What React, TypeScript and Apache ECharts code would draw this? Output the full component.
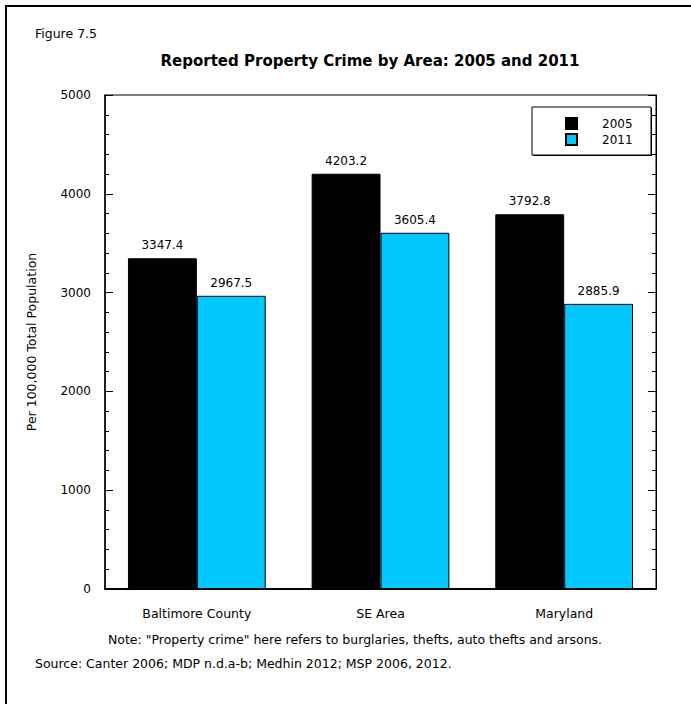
import React, { useEffect, useRef } from "react";
import * as echarts from "echarts";

const categories = ["Baltimore County", "SE Area", "Maryland"];
const values2005 = [3347.4, 4203.2, 3792.8];
const values2011 = [2967.5, 3605.4, 2885.9];
const seriesNames = ["2005", "2011"];
const yTicks = { min: 0, max: 5000, interval: 1000 };

const FONT = "'DejaVu Sans', 'Liberation Sans', Arial, sans-serif";
const FS = 12.5;

export default function App() {
  const ref = useRef<HTMLDivElement>(null);
  useEffect(() => {
    if (!ref.current) return;
    const chart = echarts.init(ref.current, undefined, { renderer: "svg" });
    const yAxisBase = {
      type: "value" as const,
      min: yTicks.min,
      max: yTicks.max,
      interval: yTicks.interval,
      splitLine: { show: false },
      axisLine: { show: true, lineStyle: { color: "#000", width: 1.5 } },
      axisTick: { show: true, inside: true, length: 8, lineStyle: { color: "#000", width: 1 } },
      minorTick: { show: true, splitNumber: 5, length: 4, lineStyle: { color: "#000", width: 1 } },
    };
    const labelCfg = {
      show: true,
      position: "top" as const,
      distance: 7,
      fontSize: 12,
      color: "#000",
      fontFamily: FONT,
      formatter: (p: any) => Number(p.value).toFixed(1),
    };
    chart.setOption({
      animation: false,
      textStyle: { fontFamily: FONT },
      grid: {
        left: 105,
        top: 95,
        right: 35,
        bottom: 115,
        show: true,
        borderColor: "#000",
        borderWidth: 1,
        backgroundColor: "transparent",
      },
      graphic: [
        {
          type: "rect",
          shape: { x: 6, y: 6, width: 720, height: 720 },
          style: { fill: "none", stroke: "#000", lineWidth: 2 },
          silent: true,
        },
        {
          type: "text",
          x: 35,
          y: 33,
          style: { text: "Figure 7.5", font: `${FS}px ${FONT}`, fill: "#000", textVerticalAlign: "middle" },
        },
        {
          type: "text",
          x: 370,
          y: 61,
          style: {
            text: "Reported Property Crime by Area: 2005 and 2011",
            font: `bold 15px ${FONT}`,
            fill: "#000",
            textAlign: "center",
            textVerticalAlign: "middle",
          },
        },
        {
          type: "text",
          x: 355,
          y: 639,
          style: {
            text: 'Note: "Property crime" here refers to burglaries, thefts, auto thefts and arsons.',
            font: `${FS}px ${FONT}`,
            fill: "#000",
            textAlign: "center",
            textVerticalAlign: "middle",
          },
        },
        {
          type: "text",
          x: 35,
          y: 663,
          style: {
            text: "Source: Canter 2006; MDP n.d.a-b; Medhin 2012; MSP 2006, 2012.",
            font: `${FS}px ${FONT}`,
            fill: "#000",
            textVerticalAlign: "middle",
          },
        },
        {
          type: "rect",
          shape: { x: 533, y: 108, width: 119, height: 48 },
          style: { fill: "#000" },
          z: 10,
        },
        {
          type: "rect",
          shape: { x: 532, y: 107, width: 119, height: 48 },
          style: { fill: "#fff", stroke: "#000", lineWidth: 1 },
          z: 11,
        },
      ],
      legend: {
        show: true,
        orient: "vertical",
        left: 565,
        top: 117,
        itemWidth: 11,
        itemHeight: 11,
        itemGap: 3,
        padding: 0,
        z: 20,
        textStyle: { fontSize: 12, color: "#000", padding: [0, 0, 0, 20], fontFamily: FONT },
        data: seriesNames.map((n) => ({ name: n, icon: "rect" })),
      },
      xAxis: {
        type: "category",
        data: categories,
        axisLine: { show: true, lineStyle: { color: "#000", width: 2 } },
        axisTick: { show: false },
        axisLabel: { fontSize: FS, color: "#000", margin: 18, fontFamily: FONT },
      },
      yAxis: [
        {
          ...yAxisBase,
          position: "left",
          name: "Per 100,000 Total Population",
          nameLocation: "middle",
          nameGap: 67,
          nameRotate: 90,
          nameTextStyle: { fontSize: FS, color: "#000", fontFamily: FONT },
          axisLabel: {
            fontSize: 12,
            color: "#000",
            margin: 14,
            fontFamily: FONT,
            formatter: (v: number) => String(v),
          },
        },
        {
          ...yAxisBase,
          position: "right",
          axisLine: { show: true, lineStyle: { color: "#000", width: 1 } },
          axisLabel: { show: false },
        },
      ],
      series: [
        {
          name: seriesNames[0],
          type: "bar",
          data: values2005,
          barWidth: "37.5%",
          barGap: "0%",
          itemStyle: { color: "#000", borderColor: "#000", borderWidth: 1 },
          label: labelCfg,
        },
        {
          name: seriesNames[1],
          type: "bar",
          data: values2011,
          barWidth: "37.5%",
          barGap: "0%",
          itemStyle: { color: "#00C8FF", borderColor: "#000", borderWidth: 1 },
          label: labelCfg,
        },
      ],
    });
    return () => chart.dispose();
  }, []);
  return (
    <div
      ref={ref}
      style={{ position: "fixed", left: 0, top: 0, width: 691, height: 704, background: "#fff" }}
    />
  );
}
